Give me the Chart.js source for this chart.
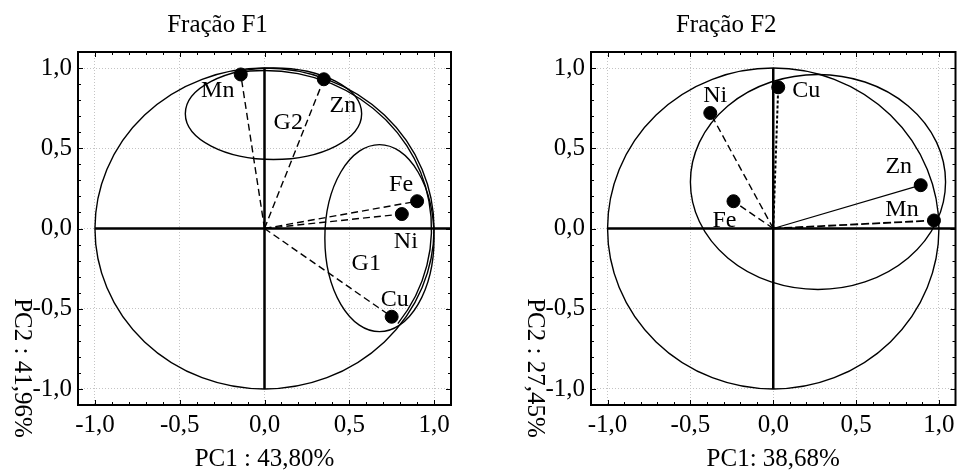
<!DOCTYPE html>
<html>
<head>
<meta charset="utf-8">
<script src="https://cdn.jsdelivr.net/npm/chart.js@4.4.0/dist/chart.umd.min.js"></script>
<style>
  body { margin: 0; background: #fff; }
  #wrap { position: relative; width: 963px; height: 472px; }
  canvas { position: absolute; top: 0; }
</style>
</head>
<body>
<div id="wrap">
  <canvas id="f1" width="481" height="472" style="left:0"></canvas>
  <canvas id="f2" width="482" height="472" style="left:481px"></canvas>
</div>
<script>
// Fração F1 loadings
const varsF1 = ['Mn', 'Zn', 'Fe', 'Ni', 'Cu'];
const pc1F1 = [-0.14, 0.35, 0.90, 0.81, 0.75];
const pc2F1 = [0.96, 0.93, 0.17, 0.09, -0.55];
const groupsF1 = ['G2', 'G1'];
const groupX_F1 = [0.14, 0.60];
const groupY_F1 = [0.66, -0.22];

// Fração F2 loadings
const varsF2 = ['Ni', 'Cu', 'Zn', 'Mn', 'Fe'];
const pc1F2 = [-0.38, 0.03, 0.89, 0.97, -0.24];
const pc2F2 = [0.72, 0.88, 0.27, 0.05, 0.17];

const tickValues = [-1, -0.5, 0, 0.5, 1];
const tickLabels = ['-1,0', '-0,5', '0,0', '0,5', '1,0'];

const SERIF = "'Liberation Serif', 'Times New Roman', serif";
const axisFont = { family: SERIF, size: 25, lineHeight: 1 };

const panelPlugin = {
  id: 'panel',
  beforeDatasetsDraw(chart, args, o) {
    const ctx = chart.ctx, xs = chart.scales.x, ys = chart.scales.y, a = chart.chartArea;
    ctx.save();
    ctx.beginPath();
    ctx.rect(a.left, a.top, a.right - a.left, a.bottom - a.top);
    ctx.clip();
    ctx.strokeStyle = '#000';
    // axes through origin
    ctx.lineWidth = 2.5;
    ctx.beginPath();
    ctx.moveTo(xs.getPixelForValue(-1), ys.getPixelForValue(0));
    ctx.lineTo(a.right, ys.getPixelForValue(0));
    ctx.moveTo(xs.getPixelForValue(0), ys.getPixelForValue(-1));
    ctx.lineTo(xs.getPixelForValue(0), ys.getPixelForValue(1));
    ctx.stroke();
    // circle + ellipses
    ctx.lineWidth = 1.4;
    o.ellipses.forEach(e => {
      const cx = xs.getPixelForValue(e.cx), cy = ys.getPixelForValue(e.cy);
      const rx = xs.getPixelForValue(e.cx + e.rx) - cx;
      const ry = cy - ys.getPixelForValue(e.cy + e.ry);
      const s = (e.from === undefined ? 0 : e.from) * Math.PI / 180;
      const t = (e.to === undefined ? 360 : e.to) * Math.PI / 180;
      ctx.beginPath();
      ctx.ellipse(cx, cy, rx, ry, 0, s, t, false);
      ctx.stroke();
    });
    ctx.restore();
  },
  afterDraw(chart, args, o) {
    const ctx = chart.ctx, xs = chart.scales.x, ys = chart.scales.y, a = chart.chartArea;
    ctx.save();
    // frame
    ctx.strokeStyle = '#000';
    ctx.lineWidth = 2;
    ctx.strokeRect(a.left, a.top, a.right - a.left, a.bottom - a.top);
    // inner minor ticks
    ctx.lineWidth = 1;
    ctx.beginPath();
    for (let k = -10; k <= 10; k++) {
      const len = k % 5 === 0 ? 5 : 3;
      const x = Math.round(xs.getPixelForValue(k / 10)) + 0.5;
      const y = Math.round(ys.getPixelForValue(k / 10)) + 0.5;
      ctx.moveTo(x, a.top); ctx.lineTo(x, a.top + len);
      ctx.moveTo(x, a.bottom); ctx.lineTo(x, a.bottom - len);
      ctx.moveTo(a.left, y); ctx.lineTo(a.left + len, y);
      ctx.moveTo(a.right, y); ctx.lineTo(a.right - len, y);
    }
    ctx.stroke();
    // variable labels
    ctx.fillStyle = '#000';
    ctx.font = "24px " + SERIF;
    ctx.textAlign = 'center';
    ctx.textBaseline = 'middle';
    o.names.forEach((n, i) => {
      const off = o.offsets[n];
      ctx.fillText(n, xs.getPixelForValue(o.px[i]) + off[0], ys.getPixelForValue(o.py[i]) + off[1]);
    });
    (o.groups || []).forEach((g, i) => {
      ctx.fillText(g, xs.getPixelForValue(o.gx[i]), ys.getPixelForValue(o.gy[i]));
    });
    // panel title
    ctx.font = "25px " + SERIF;
    ctx.textBaseline = 'alphabetic';
    ctx.fillText(o.title, (a.left + a.right) / 2 - 47, 32);
    // vertical axis title, rotated clockwise
    ctx.translate(a.left - 56, 368);
    ctx.rotate(Math.PI / 2);
    ctx.textBaseline = 'middle';
    ctx.fillText(o.yTitle, 0, 0);
    ctx.restore();
  }
};

function vectorSets(names, vx, vy, dashes, widths) {
  const sets = names.map((n, i) => ({
    label: n,
    data: [{ x: 0, y: 0 }, { x: vx[i], y: vy[i] }],
    showLine: true,
    borderColor: '#000',
    borderWidth: widths[i],
    borderDash: dashes[i],
    pointRadius: 0
  }));
  sets.push({
    label: 'loadings',
    data: names.map((n, i) => ({ x: vx[i], y: vy[i] })),
    backgroundColor: '#000',
    borderColor: '#000',
    pointRadius: 6.5,
    pointHoverRadius: 6.5
  });
  return sets;
}

function scaleOpts(title, fitSize, isX) {
  return {
    type: 'linear',
    min: -1.1,
    max: 1.1,
    afterBuildTicks: s => { s.ticks = tickValues.map(v => ({ value: v })); },
    afterFit: s => { if (isX) s.height = fitSize; else s.width = fitSize; },
    ticks: {
      callback: (v) => tickLabels[tickValues.indexOf(v)],
      font: axisFont,
      color: '#000',
      padding: isX ? 8 : 6,
      autoSkip: false,
      maxRotation: 0
    },
    grid: { color: '#c4c4c4', lineWidth: 1, drawTicks: false },
    border: { display: false, dash: [1, 2] },
    title: isX ? { display: true, text: title, font: axisFont, color: '#000', padding: 0 } : { display: false }
  };
}

function makePanel(id, cfg) {
  new Chart(document.getElementById(id), {
    type: 'scatter',
    data: { datasets: vectorSets(cfg.names, cfg.px, cfg.py, cfg.dashes, cfg.widths) },
    options: {
      responsive: false,
      animation: false,
      devicePixelRatio: 1,
      layout: { padding: { top: 52, right: cfg.padRight, left: 0, bottom: 0 } },
      plugins: {
        legend: { display: false },
        tooltip: { enabled: false },
        panel: cfg
      },
      scales: {
        x: scaleOpts(cfg.xTitle, 67, true),
        y: scaleOpts('', cfg.yWidth, false)
      }
    },
    plugins: [panelPlugin]
  });
}

makePanel('f1', {
  title: 'Fração F1',
  xTitle: 'PC1 : 43,80%',
  yTitle: 'PC2 : 41,96%',
  names: varsF1, px: pc1F1, py: pc2F1,
  groups: groupsF1, gx: groupX_F1, gy: groupY_F1,
  dashes: [[7, 4], [7, 4], [7, 4], [7, 4], [7, 4]],
  widths: [1.4, 1.4, 1.4, 1.4, 1.4],
  offsets: { Mn: [-23, 16], Zn: [19, 26], Fe: [-16, -17], Ni: [4, 28], Cu: [3, -17] },
  ellipses: [
    { cx: 0, cy: 0, rx: 1, ry: 1 },
    { cx: 0, cy: 0, rx: 0.985, ry: 0.985, from: -100, to: 37 },
    { cx: 0.053, cy: 0.715, rx: 0.52, ry: 0.285 },
    { cx: 0.678, cy: -0.06, rx: 0.322, ry: 0.583 }
  ],
  yWidth: 78,
  padRight: 30
});

makePanel('f2', {
  title: 'Fração F2',
  xTitle: 'PC1: 38,68%',
  yTitle: 'PC2 : 27,45%',
  names: varsF2, px: pc1F2, py: pc2F2,
  dashes: [[7, 4], [3, 2], [], [8, 3], [7, 4]],
  widths: [1.4, 2, 1.2, 1.8, 1.4],
  offsets: { Ni: [5, -17], Cu: [28, 3], Zn: [-22, -18], Mn: [-32, -11], Fe: [-9, 19] },
  ellipses: [
    { cx: 0, cy: 0, rx: 1, ry: 1 },
    { cx: 0.27, cy: 0.29, rx: 0.77, ry: 0.67 }
  ],
  yWidth: 110,
  padRight: 1
});
</script>
</body>
</html>
